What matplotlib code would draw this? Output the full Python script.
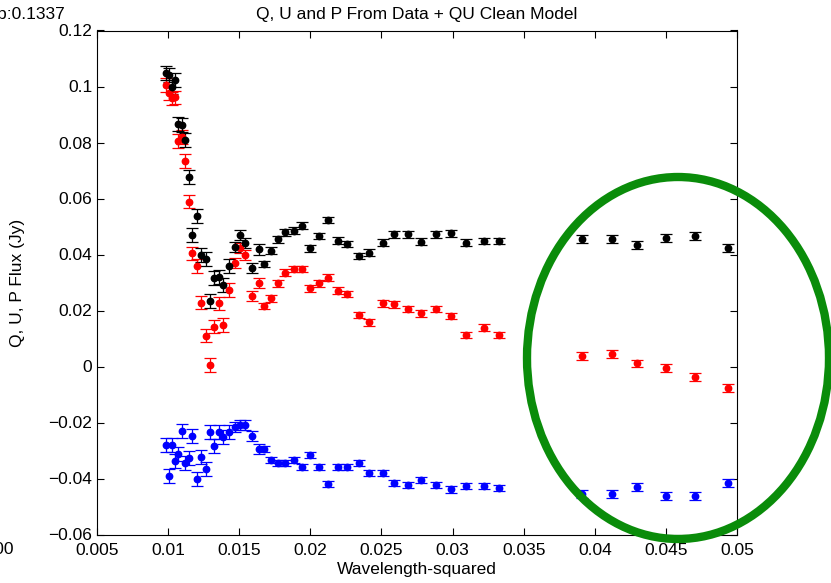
#!/usr/bin/env python3

import numpy as np
import matplotlib
matplotlib.use('Agg')
import matplotlib.pyplot as plt
from matplotlib.patches import Ellipse
from matplotlib.ticker import FuncFormatter
import sys

# wavelength-squared sample points
lam2 = [0.00983, 0.01006, 0.01025, 0.01048, 0.01067, 0.01096, 0.01119, 0.01149,
        0.01170, 0.01201, 0.01231, 0.01266, 0.01295, 0.01325, 0.01360, 0.01388,
        0.01430, 0.01470, 0.01505, 0.01544, 0.01588, 0.01636, 0.01671, 0.01721,
        0.01775, 0.01825, 0.01885, 0.01939, 0.01998, 0.02061, 0.02126, 0.02197,
        0.02260, 0.02342, 0.02416, 0.02509, 0.02588, 0.02685, 0.02778, 0.02884,
        0.02987, 0.03095, 0.03223, 0.03327,
        0.03908, 0.04119, 0.04295, 0.04501, 0.04705, 0.04939]

p_flux = [0.1048, 0.1041, 0.0998, 0.1023, 0.0866, 0.0862, 0.0809, 0.0677,
          0.0470, 0.0537, 0.0398, 0.0384, 0.0234, 0.0316, 0.0320, 0.0291,
          0.0359, 0.0428, 0.0470, 0.0442, 0.0352, 0.0418, 0.0366, 0.0414,
          0.0454, 0.0479, 0.0485, 0.0503, 0.0422, 0.0466, 0.0523, 0.0449,
          0.0438, 0.0395, 0.0406, 0.0442, 0.0472, 0.0472, 0.0446, 0.0472,
          0.0476, 0.0442, 0.0448, 0.0448,
          0.0455, 0.0455, 0.0434, 0.0460, 0.0466, 0.0422]

q_flux = [0.1006, 0.0976, 0.0958, 0.0961, 0.0805, 0.0820, 0.0734, 0.0589,
          0.0404, 0.0359, 0.0228, 0.0110, 0.0005, 0.0142, 0.0226, 0.0148,
          0.0273, 0.0371, 0.0422, 0.0398, 0.0252, 0.0297, 0.0216, 0.0244,
          0.0297, 0.0335, 0.0348, 0.0348, 0.0279, 0.0297, 0.0317, 0.0271,
          0.0259, 0.0184, 0.0158, 0.0226, 0.0222, 0.0205, 0.0190, 0.0205,
          0.0180, 0.0113, 0.0139, 0.0113,
          0.0038, 0.0044, 0.0011, -0.0006, -0.0036, -0.0078]

u_flux = [-0.0280, -0.0391, -0.0280, -0.0338, -0.0313, -0.0230, -0.0345, -0.0327,
          -0.0248, -0.0402, -0.0323, -0.0366, -0.0234, -0.0284, -0.0234, -0.0252,
          -0.0234, -0.0216, -0.0209, -0.0209, -0.0248, -0.0295, -0.0295, -0.0334,
          -0.0345, -0.0345, -0.0334, -0.0359, -0.0316, -0.0359, -0.0420, -0.0359,
          -0.0359, -0.0345, -0.0380, -0.0380, -0.0416, -0.0423, -0.0405, -0.0423,
          -0.0438, -0.0427, -0.0427, -0.0434,
          -0.0455, -0.0455, -0.0430, -0.0462, -0.0462, -0.0416]

flux_err = [0.0024] * 17 + [0.0018] * 5 + [0.0012] * 22 + [0.0014] * 6


def fmt(v, pos):
    return ('%g' % round(v, 4)).replace('-', '\u2212')


def main():
    plt.rcParams['font.family'] = ['Liberation Sans', 'DejaVu Sans']
    fig = plt.figure(figsize=(8.31, 5.83), dpi=100)
    ax = fig.add_axes([97 / 831, 1 - 534.5 / 583, 640 / 831, 504 / 583])

    kw = dict(fmt='o', markersize=4.6, capsize=4.2, elinewidth=0.9,
              capthick=0.9, linestyle='none')
    ax.errorbar(lam2, q_flux, yerr=flux_err, color='#ff0000', **kw)
    ax.errorbar(lam2, u_flux, yerr=flux_err, color='#0000ff', **kw)
    ax.errorbar(lam2, p_flux, yerr=flux_err, color='black', **kw)

    ax.set_xlim(0.005, 0.05)
    ax.set_ylim(-0.06, 0.12)
    ax.set_xticks(np.arange(0.005, 0.0501, 0.005))
    ax.set_yticks(np.arange(-0.06, 0.1201, 0.02))
    ax.xaxis.set_major_formatter(FuncFormatter(fmt))
    ax.yaxis.set_major_formatter(FuncFormatter(fmt))
    ax.tick_params(direction='in', top=True, right=True, length=5,
                   labelsize=12.5, width=0.8)
    ax.tick_params(axis='x', pad=6)
    for s in ax.spines.values():
        s.set_linewidth(0.8)

    ax.set_title('Q, U and P From Data + QU Clean Model', fontsize=12.5, pad=8)
    ax.set_xlabel('Wavelength-squared', fontsize=12.5, labelpad=3)
    ax.set_ylabel('Q, U, P Flux (Jy)', fontsize=12.5, labelpad=17)

    # bits of the neighbouring panel cut off at the left edge
    fig.text(66 / 831, 1 - 14 / 583, 'Amp:0.1337', ha='right', va='center',
             fontsize=12.5)
    fig.text(14 / 831, 1 - 550 / 583, '0.100', ha='right', va='center',
             fontsize=12.5)

    ell = Ellipse((678 / 831, 1 - 358 / 583), 302 / 831, 362 / 583,
                  transform=fig.transFigure, fill=False, edgecolor='#0a8c0a',
                  linewidth=6)
    fig.patches.append(ell)

    fig.savefig('out.png', dpi=100)


if __name__ == '__main__':
    sys.exit(main())
